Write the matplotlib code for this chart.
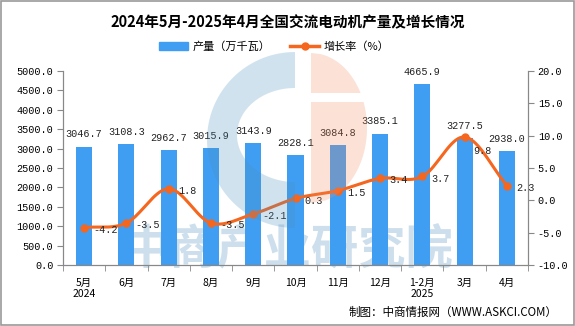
import numpy as np
import matplotlib.pyplot as plt
from matplotlib.patches import Rectangle, Polygon, Patch
from matplotlib.lines import Line2D

plt.rcParams['font.family'] = ['Noto Sans CJK SC', 'DejaVu Sans']

months = ["5月\n2024", "6月", "7月", "8月", "9月", "10月", "11月", "12月",
          "1-2月\n2025", "3月", "4月"]
output = [3046.7, 3108.3, 2962.7, 3015.9, 3143.9, 2828.1, 3084.8, 3385.1,
          4665.9, 3277.5, 2938.0]
growth = [-4.2, -3.5, 1.8, -3.5, -2.1, 0.3, 1.5, 3.4, 3.7, 9.8, 2.3]

bar_color = "#409EF2"
line_color = "#F5661F"
grey = "#888888"
mono = "Liberation Mono"


def smooth(x, y, n=20):
    # Catmull-Rom curve through the points, like a spreadsheet "smoothed line"
    x = np.asarray(x, float)
    y = np.asarray(y, float)
    px = np.concatenate([[2 * x[0] - x[1]], x, [2 * x[-1] - x[-2]]])
    py = np.concatenate([[2 * y[0] - y[1]], y, [2 * y[-1] - y[-2]]])
    xs, ys = [], []
    t = np.linspace(0, 1, n)
    for i in range(1, len(px) - 2):
        for p, out in ((px, xs), (py, ys)):
            p0, p1, p2, p3 = p[i - 1], p[i], p[i + 1], p[i + 2]
            out.extend(0.5 * (2 * p1 + (-p0 + p2) * t
                              + (2 * p0 - 5 * p1 + 4 * p2 - p3) * t ** 2
                              + (-p0 + 3 * p1 - 3 * p2 + p3) * t ** 3))
    return xs, ys


fig = plt.figure(figsize=(5.75, 3.26), dpi=100)
fig.patches.append(Rectangle((0.002, 0.003), 0.996, 0.994, transform=fig.transFigure,
                             fill=False, edgecolor="#999999", linewidth=1.2))

# background layer in pixel coords: watermark text
bg = fig.add_axes([0, 0, 1, 1], zorder=0)
bg.set_xlim(0, 575)
bg.set_ylim(326, 0)
bg.axis("off")
bg.text(288, 249, "中商产业研究院", fontsize=34, fontweight="bold",
        color="#cddfec", ha="center", va="center")

ax = fig.add_axes([0.1096, 0.187, 0.8087, 0.595], zorder=1)
ax2 = ax.twinx()
ax.patch.set_visible(False)

x = np.arange(len(months))

ax.bar(x, output, width=0.38, color=bar_color, zorder=2)
for xi, v in zip(x, output):
    ax.text(xi, v + 190, f"{v:.1f}", ha="center", va="bottom", fontsize=7.3,
            family=mono, color="#222222")

sx, sy = smooth(x, growth)
ax2.plot(sx, sy, color=line_color, linewidth=2.2, zorder=3)
ax2.plot(x, growth, "o", color=line_color, markersize=5, zorder=4)
for xi, v in zip(x, growth):
    dy = -10 if v == max(growth) else -1.5
    ax2.annotate(f"{v:.1f}", (xi, v), xytext=(6.5, dy), textcoords="offset points",
                 ha="left", va="center", fontsize=7.3, family=mono, color="#222222")

ax.set_xlim(-0.5, len(months) - 0.5)
ax.set_ylim(0, 5000)
ax.set_yticks(np.arange(0, 5001, 500))
ax.set_yticklabels([f"{v:.1f}" for v in np.arange(0, 5001, 500)], fontsize=7.3, family=mono)
ax2.set_ylim(-10, 20)
ax2.set_yticks(np.arange(-10, 21, 5))
ax2.set_yticklabels([f"{v:.1f}" for v in np.arange(-10, 21, 5)], fontsize=7.3, family=mono)

ax.set_xticks(x)
ax.set_xticklabels(months, fontsize=7.5, linespacing=1.15)
ax.set_xticks(np.arange(-0.5, len(months), 1), minor=True)
ax.tick_params(axis="x", which="major", length=0, pad=9)
ax.tick_params(axis="x", which="minor", length=4, color=grey)
ax.tick_params(axis="y", length=4, color=grey, pad=3)
ax2.tick_params(axis="y", length=4, color=grey, pad=3)

for a in (ax, ax2):
    a.spines["top"].set_visible(False)
    for s in ("left", "right", "bottom"):
        a.spines[s].set_color(grey)

# logo overlay (semi transparent, on top), pixel coords
fg = fig.add_axes([0, 0, 1, 1], zorder=5)
fg.set_xlim(0, 575)
fg.set_ylim(326, 0)
fg.axis("off")
fg.patch.set_visible(False)

cx, cy, r = 295, 140, 88
a = np.linspace(np.pi / 2, 3 * np.pi / 2, 60)
outer = np.column_stack([cx + r * np.cos(a), cy - r * np.sin(a)])
hx, hy, hrx, hry = 295, 135, 58, 47
hole = np.column_stack([hx + hrx * np.cos(a[::-1]), hy - hry * np.sin(a[::-1])])
fg.add_patch(Polygon(np.vstack([outer, hole]), closed=True, color="#4a8fc0",
                     alpha=0.25, lw=0))

ex, ey, erx, ery = 311, 128, 56, 75
for y0, y1 in ((ey - ery, 93), (102, ey + ery)):
    ys = np.linspace(y0, y1, 40)
    xs = ex + erx * np.sqrt(np.clip(1 - ((ys - ey) / ery) ** 2, 0, 1))
    pts = np.vstack([np.column_stack([xs, ys]), [[ex, y1], [ex, y0]]])
    fg.add_patch(Polygon(pts, closed=True, color="#f08a5d", alpha=0.25, lw=0))

fig.text(0.5, 0.933, "2024年5月-2025年4月全国交流电动机产量及增长情况",
         ha="center", va="center", fontsize=10.5, fontweight="bold")

handles = [Patch(color=bar_color, label="产量（万千瓦）"),
           Line2D([0], [0], color=line_color, linewidth=2.5, marker="o",
                  markersize=5, label="增长率（%）")]
fig.legend(handles=handles, loc="center", bbox_to_anchor=(0.477, 0.856), ncol=2,
           frameon=False, fontsize=8, handlelength=2.6, columnspacing=1.8,
           handletextpad=0.4)

fig.text(0.97, 0.043, "制图：中商情报网（WWW.ASKCI.COM）", ha="right", va="center",
         fontsize=8.3)

plt.savefig("out.png", dpi=100)
